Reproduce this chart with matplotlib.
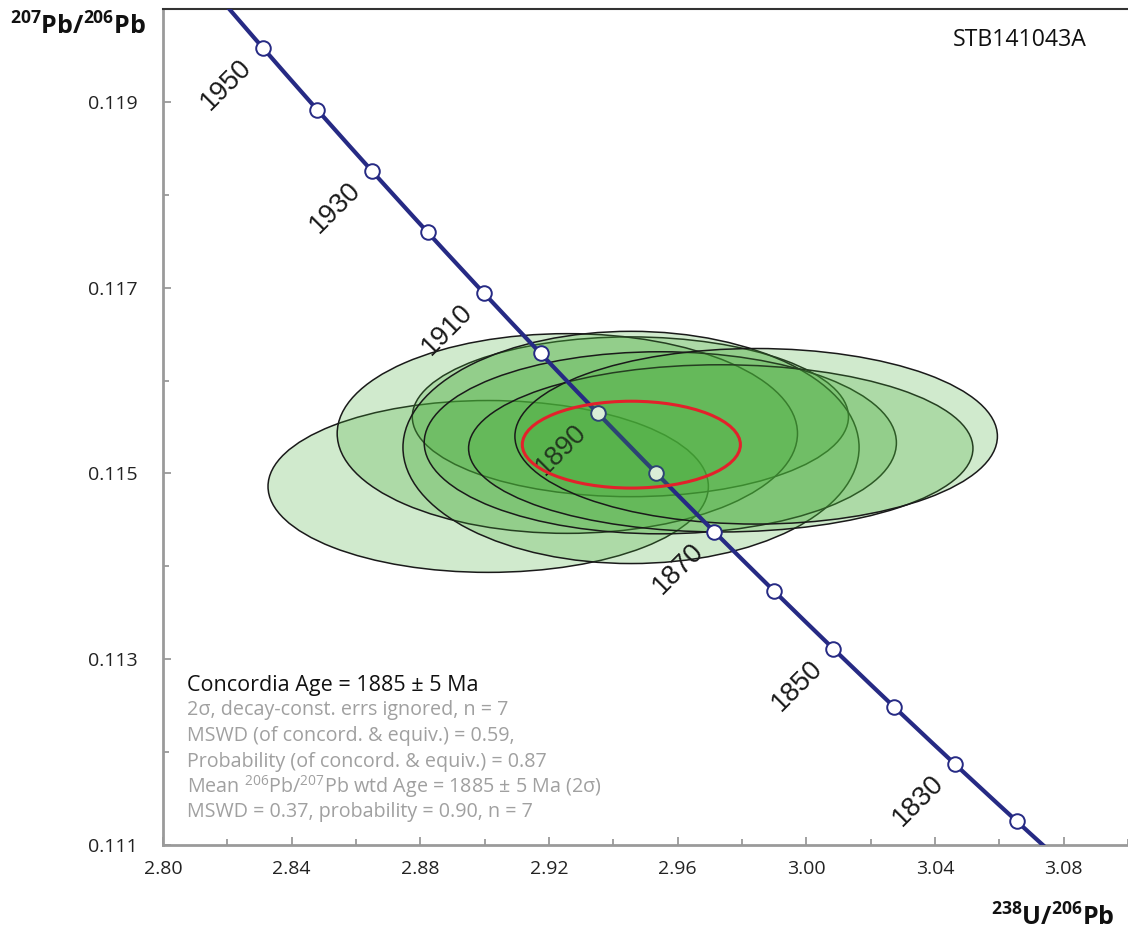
import numpy as np
import matplotlib
matplotlib.use("Agg")
import matplotlib.pyplot as plt
from matplotlib.patches import Ellipse

# ---------------- data ----------------
# decay constants (per Ma) and present-day 238U/235U
LAMBDA_238 = 1.55125e-4
LAMBDA_235 = 9.8485e-4
U238_U235 = 137.88

marker_ages = [1820, 1830, 1840, 1850, 1860, 1870, 1880, 1890, 1900, 1910, 1920, 1930, 1940, 1950]
label_ages = [1830, 1850, 1870, 1890, 1910, 1930, 1950]

# analysis error ellipses (2 sigma): centre, full width, full height
ell_x = [2.9011, 2.9453, 2.9257, 2.9455, 2.9546, 2.9734, 2.9844]
ell_y = [0.11486, 0.11561, 0.11543, 0.11528, 0.11533, 0.11527, 0.11540]
ell_w = [0.1369, 0.1356, 0.1431, 0.1418, 0.1468, 0.1568, 0.1500]
ell_h = [0.00185, 0.00172, 0.00215, 0.00250, 0.00196, 0.00180, 0.00189]

# concordia age ellipse
age_x, age_y = 2.9456, 0.11531
age_w, age_h = 0.0678, 0.000935

x_ticks = [2.80, 2.84, 2.88, 2.92, 2.96, 3.00, 3.04, 3.08]
y_ticks = [0.111, 0.113, 0.115, 0.117, 0.119]

info_title = "Concordia Age = 1885 ± 5 Ma"
info_lines = [
    "2σ, decay-const. errs ignored, n = 7",
    "MSWD (of concord. & equiv.) = 0.59,",
    "Probability (of concord. & equiv.) = 0.87",
    "Mean $^{206}$Pb/$^{207}$Pb wtd Age = 1885 ± 5 Ma (2σ)",
    "MSWD = 0.37, probability = 0.90, n = 7",
]
sample_name = "STB141043A"


def tera_wasserburg(t):
    t = np.asarray(t, dtype=float)
    e8 = np.exp(LAMBDA_238 * t) - 1.0
    e5 = np.exp(LAMBDA_235 * t) - 1.0
    return 1.0 / e8, e5 / e8 / U238_U235


# ---------------- style ----------------
plt.rcParams["font.family"] = ["Open Sans", "DejaVu Sans"]
plt.rcParams["mathtext.fontset"] = "custom"
plt.rcParams["mathtext.rm"] = "Open Sans"
plt.rcParams["mathtext.it"] = "Open Sans:italic"
plt.rcParams["mathtext.bf"] = "Open Sans:bold"

W, H = 1128, 936
fig = plt.figure(figsize=(W / 100, H / 100), dpi=100)
ax = fig.add_axes([163 / W, 91 / H, 965 / W, 836 / H])
ax.set_xlim(2.80, 3.10)
ax.set_ylim(0.111, 0.120)

fill_col = (0.28, 0.68, 0.22, 0.25)
for i in range(len(ell_x)):
    e = Ellipse((ell_x[i], ell_y[i]), ell_w[i], ell_h[i], angle=0,
                facecolor=fill_col, edgecolor="#1a1a1a", lw=1.1, zorder=2)
    ax.add_patch(e)

# concordia curve
t = np.linspace(1780, 1990, 400)
cx, cy = tera_wasserburg(t)
ax.plot(cx, cy, color="#262a84", lw=3.0, zorder=4, solid_capstyle="butt")
mx, my = tera_wasserburg(marker_ages)
ax.plot(mx, my, "o", ms=10.5, mfc="white", mec="#262a84", mew=1.4, zorder=5)

for a in label_ages:
    lx, ly = tera_wasserburg(a)
    ax.annotate(str(a), xy=(lx, ly), xytext=(-11, -11), textcoords="offset points",
                rotation=45, rotation_mode="anchor", ha="right", va="center",
                fontsize=19.5, family="Liberation Sans", color="#1a1a1a", zorder=6)

# concordia age ellipse
ax.add_patch(Ellipse((age_x, age_y), age_w, age_h, angle=0,
                     facecolor=(0.28, 0.68, 0.22, 0.2), edgecolor="#e3212b",
                     lw=2.2, zorder=7))

# axes styling
for s in ["left", "bottom"]:
    ax.spines[s].set_color("#9a9a9a")
    ax.spines[s].set_linewidth(2.0)
ax.spines["right"].set_visible(False)
ax.spines["top"].set_color("#333333")
ax.spines["top"].set_linewidth(1.5)

ax.set_xticks(x_ticks)
ax.set_xticklabels([f"{v:.2f}" for v in x_ticks])
ax.set_xticks([v + 0.02 for v in x_ticks], minor=True)
ax.set_yticks(y_ticks)
ax.set_yticklabels([f"{v:.3f}" for v in y_ticks])
ax.set_yticks([v + 0.001 for v in y_ticks[:-1]], minor=True)
ax.tick_params(which="both", direction="in", color="#9a9a9a", width=1.3,
               labelsize=14, labelcolor="#222222")
ax.tick_params(which="major", length=5.5)
ax.tick_params(which="minor", length=4)
ax.tick_params(axis="x", pad=11)
ax.tick_params(axis="y", pad=18)

# info text
x0 = (187 - 163) / 965
y0 = (845 - 685) / 836
dy = 25.5 / 836
ax.text(x0, y0, info_title, transform=ax.transAxes, fontsize=15.5, color="#111111",
        ha="left", va="center", zorder=8)
for k, line in enumerate(info_lines):
    ax.text(x0, y0 - (k + 1) * dy, line, transform=ax.transAxes, fontsize=14.2,
            color="#a0a0a0", ha="left", va="center", zorder=8)

ax.text((1020 - 163) / 965, (845 - 40) / 836, sample_name, transform=ax.transAxes,
        fontsize=16.7, color="#111111", ha="center", va="center")

# axis titles
fig.text(10 / W, 1 - 27 / H, r"$\mathbf{^{207}Pb/^{206}Pb}$", fontsize=18,
         ha="left", va="center", color="#111111")
fig.text(1114 / W, 1 - 918 / H, r"$\mathbf{^{238}U/^{206}Pb}$", fontsize=18,
         ha="right", va="center", color="#111111")

fig.savefig("out.png", dpi=100)
